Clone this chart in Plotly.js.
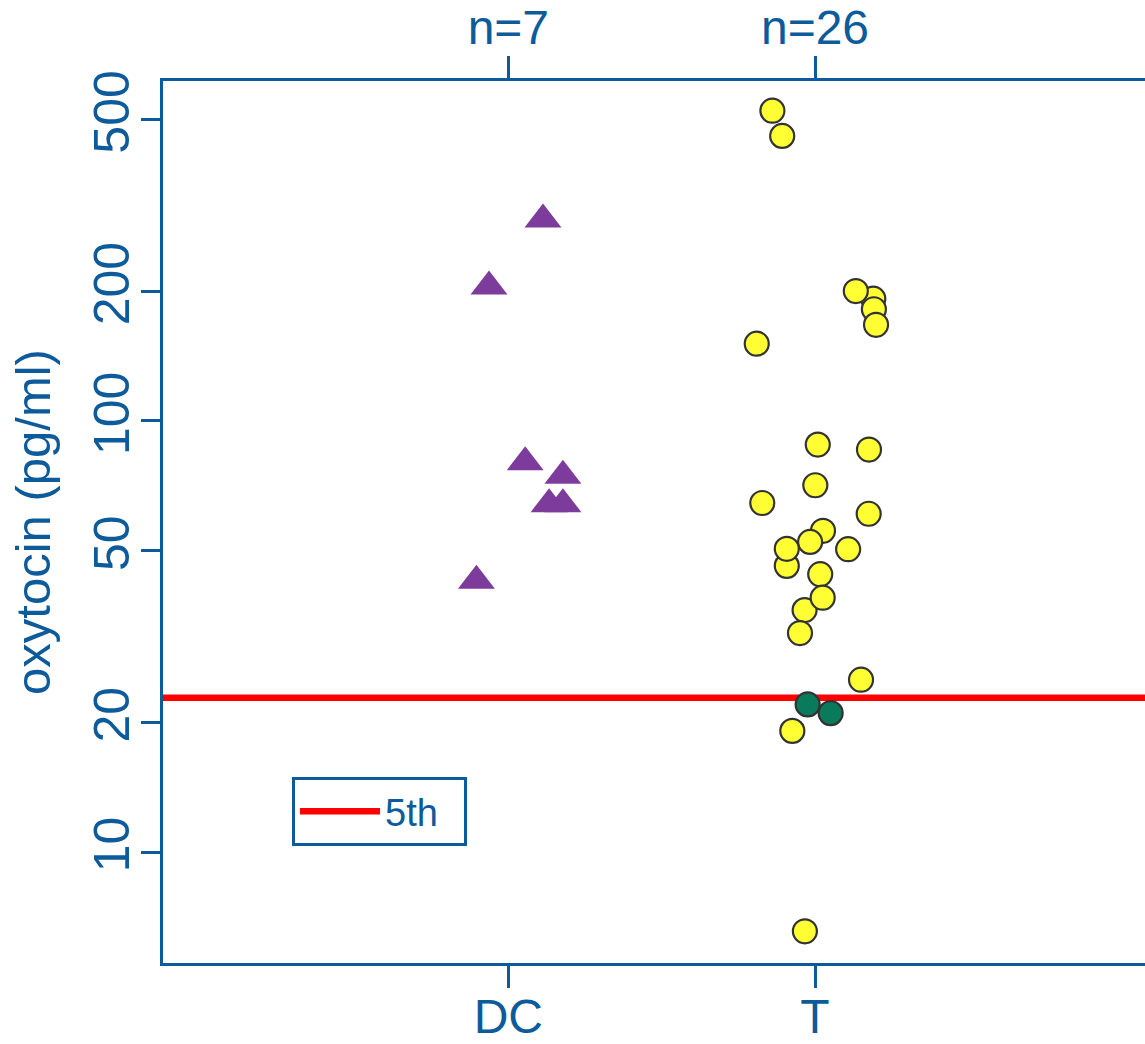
<!DOCTYPE html>
<html>
<head>
<meta charset="utf-8">
<script src="https://cdn.plot.ly/plotly-3.0.1.min.js"></script>
<style>
html, body { margin: 0; padding: 0; background: #ffffff; overflow: hidden; }
#chart { width: 1145px; height: 1044px; }
</style>
</head>
<body>
<div id="chart"></div>
<script>
// Categories and tick labels
const categories = ['DC', 'T'];
const categoryPos = [0, 1];
const yTickVals = [10, 20, 50, 100, 200, 500];
const yTickText = ['10', '20', '50', '100', '200', '500'];

// DC group (triangles): horizontal jitter (category units) and oxytocin values (pg/ml)
const dcJitter = [0.113, -0.063, 0.055, 0.178, 0.133, 0.178, -0.104];
const dcValues = [293, 205, 80.2, 74.6, 64.1, 64.1, 42.6];

// T group (yellow circles)
const tJitter = [-0.139, -0.107, 0.190, 0.133, 0.192, 0.199, -0.190, 0.009, 0.176, 0.001,
                 -0.172, 0.175, 0.026, -0.016, 0.108, -0.092, -0.092, 0.017, -0.034, 0.025,
                 -0.049, 0.150, -0.074, -0.033];
const tValues = [524, 458, 192, 200, 181.5, 167, 151, 88.1, 85.8, 70.9,
                 64.5, 60.9, 55.6, 52.4, 50.4, 46.1, 50.5, 44.1, 36.4, 38.9,
                 32.2, 25.1, 19.1, 6.55];

// T group, highlighted (green circles)
const tGreenJitter = [-0.024, 0.051];
const tGreenValues = [22.0, 21.0];

// 5th percentile reference
const fifthValue = 22.8;
const fifthName = '5th';

// Top axis labels: group sizes
const topTickText = ['n=' + dcValues.length, 'n=' + (tValues.length + tGreenValues.length)];

const axisBlue = '#0d5b9b';
const fontFam = '"Liberation Sans", Arial, sans-serif';

const xRange = [-1.126, 2.076];
const yRange = [Math.log10(5.53), Math.log10(614)];

const addJ = (base, arr) => arr.map(j => base + j);

const traces = [
  {
    x: xRange, y: [fifthValue, fifthValue],
    type: 'scatter', mode: 'lines', name: fifthName + '\u00a0\u00a0',
    line: { color: '#ff0000', width: 6.5 },
    showlegend: true, hoverinfo: 'skip', cliponaxis: true
  },
  {
    x: addJ(categoryPos[0], dcJitter), y: dcValues,
    type: 'scatter', mode: 'markers', name: 'DC', showlegend: false,
    marker: { symbol: 'triangle-up', size: 32, color: '#7d3c9c', line: { width: 0 } }
  },
  {
    x: addJ(categoryPos[1], tJitter), y: tValues,
    type: 'scatter', mode: 'markers', name: 'T', showlegend: false,
    marker: { symbol: 'circle', size: 24, color: '#ffff33', line: { width: 2.2, color: '#333333' } }
  },
  {
    x: addJ(categoryPos[1], tGreenJitter), y: tGreenValues,
    type: 'scatter', mode: 'markers', name: 'T (low)', showlegend: false,
    marker: { symbol: 'circle', size: 24, color: '#0a7a5c', line: { width: 2.2, color: '#333333' } }
  }
];

const layout = {
  width: 1145, height: 1044,
  margin: { l: 163, r: 0, t: 81, b: 81, pad: 0 },
  paper_bgcolor: '#ffffff', plot_bgcolor: '#ffffff',
  font: { family: fontFam, color: axisBlue, size: 50 },
  showlegend: true,
  legend: {
    x: 0.1314, y: 0.2109, xanchor: 'left', yanchor: 'top',
    bgcolor: '#ffffff', bordercolor: axisBlue, borderwidth: 3,
    itemwidth: 80,
    font: { family: fontFam, size: 38, color: axisBlue }
  },
  xaxis: {
    range: xRange, tickmode: 'array', tickvals: categoryPos, ticktext: categories,
    showline: true, linecolor: axisBlue, linewidth: 3,
    ticks: 'outside', ticklen: 22, tickwidth: 3, tickcolor: axisBlue,
    ticklabelstandoff: -13,
    showgrid: false, zeroline: false,
    tickfont: { family: fontFam, size: 48, color: axisBlue }
  },
  xaxis2: {
    overlaying: 'x', side: 'top', matches: 'x', range: xRange,
    tickmode: 'array', tickvals: categoryPos, ticktext: topTickText,
    showline: true, linecolor: axisBlue, linewidth: 3,
    ticks: 'outside', ticklen: 22, tickwidth: 3, tickcolor: axisBlue,
    ticklabelstandoff: -7,
    showgrid: false, zeroline: false,
    tickfont: { family: fontFam, size: 48, color: axisBlue }
  },
  yaxis: {
    type: 'log', range: yRange, tickmode: 'array', tickvals: yTickVals, ticktext: yTickText,
    tickangle: -90,
    showline: true, linecolor: axisBlue, linewidth: 3,
    ticks: 'outside', ticklen: 19, tickwidth: 3, tickcolor: axisBlue,
    ticklabelstandoff: -8,
    showgrid: false, zeroline: false,
    tickfont: { family: fontFam, size: 50, color: axisBlue },
    title: { text: 'oxytocin (pg/ml)', font: { family: fontFam, size: 49, color: axisBlue }, standoff: 18 }
  }
};

// invisible trace so the top axis is bound to data
traces.push({ x: categoryPos, y: [fifthValue, fifthValue], xaxis: 'x2', type: 'scatter', mode: 'markers',
  marker: { opacity: 0 }, showlegend: false, hoverinfo: 'skip' });

Plotly.newPlot('chart', traces, layout, { staticPlot: true, displayModeBar: false });
</script>
</body>
</html>
